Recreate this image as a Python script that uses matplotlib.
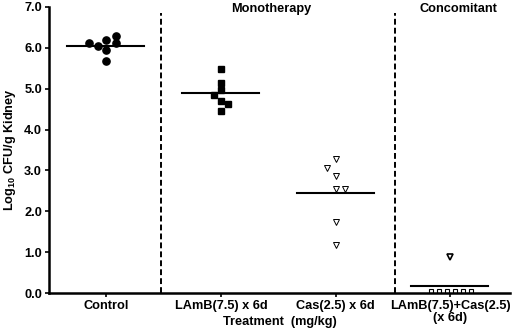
import matplotlib
matplotlib.use("Agg")
import matplotlib.pyplot as plt

# Groups on the x axis
groups = ["Control", "LAmB(7.5) x 6d", "Cas(2.5) x 6d", "LAmB(7.5)+Cas(2.5)\n(x 6d)"]

# Log10 CFU/g kidney for each mouse
control = [6.12, 6.04, 6.19, 5.94, 5.67, 6.28, 6.11]
lamb = [5.47, 5.15, 4.98, 4.84, 4.69, 4.62, 4.45]
cas = [3.28, 3.06, 2.86, 2.54, 2.54, 1.73, 1.17]
combo_detect = [0.89]
combo_below = [0.06, 0.06, 0.06, 0.06, 0.06, 0.06]

# horizontal spread of the points inside each column
control_dx = [-0.15, -0.07, 0.0, 0.0, 0.0, 0.08, 0.08]
lamb_dx = [0.0, 0.0, 0.0, -0.06, 0.0, 0.06, 0.0]
cas_dx = [0.0, -0.08, 0.0, 0.0, 0.08, 0.0, 0.0]
combo_below_dx = [-0.17, -0.10, -0.03, 0.04, 0.11, 0.18]

plt.rcParams["font.family"] = ["Liberation Sans", "DejaVu Sans"]
plt.rcParams["font.weight"] = "bold"

fig = plt.figure(figsize=(5.14, 3.29), dpi=100)
ax = fig.add_axes([0.0953, 0.109, 0.897, 0.87])

ax.plot([0 + d for d in control_dx], control, "o", color="black", ms=5.2)
ax.plot([1 + d for d in lamb_dx], lamb, "s", color="black", ms=4.2)
ax.plot([2 + d for d in cas_dx], cas, "v", mfc="white", mec="black", mew=0.7, ms=5)
ax.plot([3] * len(combo_detect), combo_detect, "v", mfc="white", mec="black", mew=1.2, ms=5)
ax.plot([3 + d for d in combo_below_dx], combo_below, "s", mfc="white", mec="black", mew=0.8, ms=3.5)

# group means
all_groups = [control, lamb, cas, combo_detect + combo_below]
for i, vals in enumerate(all_groups):
    m = sum(vals) / len(vals)
    ax.plot([i - 0.34, i + 0.33], [m, m], color="black", lw=1.5)

# dashed separators
for xs in [0.48, 2.52]:
    ax.plot([xs, xs], [0, 6.85], color="black", lw=1.4, ls=(0, (3, 1.6)))

ax.text(1.44, 6.94, "Monotherapy", ha="center", va="center", fontsize=9.2, fontweight="bold")
ax.text(3.07, 6.94, "Concomitant", ha="center", va="center", fontsize=9.2, fontweight="bold")

ax.set_xlim(-0.5, 3.52)
ax.set_ylim(0, 7)
ax.set_yticks([0, 1, 2, 3, 4, 5, 6, 7])
ax.set_yticklabels(["0.0", "1.0", "2.0", "3.0", "4.0", "5.0", "6.0", "7.0"])
ax.set_xticks(range(len(groups)))
ax.set_xticklabels(groups, linespacing=0.95)
ax.tick_params(axis="both", labelsize=9.2, width=1.2, length=3, pad=2)
ax.spines["top"].set_visible(False)
ax.spines["right"].set_visible(False)
ax.spines["left"].set_linewidth(1.8)
ax.spines["bottom"].set_linewidth(1.8)

fig.text(0.545, 0.021, "Treatment  (mg/kg)", ha="center", va="center", fontsize=9.2, fontweight="bold")
ax.set_ylabel("Log$_{\\mathregular{10}}$ CFU/g Kidney", fontsize=9.2, fontweight="bold", labelpad=4)

plt.savefig("out.png", dpi=100)
